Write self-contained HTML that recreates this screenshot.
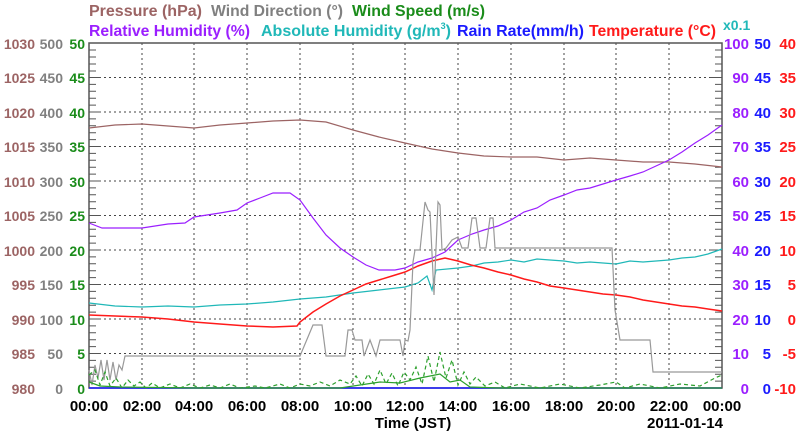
<!DOCTYPE html>
<html><head><style>
body{margin:0;background:#fff;}
svg{display:block;font-family:"Liberation Sans",sans-serif;font-weight:bold;}
</style></head><body>
<svg width="800" height="434" xmlns="http://www.w3.org/2000/svg">
<rect width="800" height="434" fill="#fff"/>
<g font-size="16">
<text x="89" y="16" fill="#9c6464" textLength="113" lengthAdjust="spacingAndGlyphs">Pressure (hPa)</text>
<text x="211" y="16" fill="#808080" textLength="132" lengthAdjust="spacingAndGlyphs">Wind Direction (°)</text>
<text x="352" y="16" fill="#1a8c1a" textLength="133" lengthAdjust="spacingAndGlyphs">Wind Speed (m/s)</text>
<text x="89" y="36" fill="#9b1fff" textLength="161" lengthAdjust="spacingAndGlyphs">Relative Humidity (%)</text>
<text x="261" y="36" fill="#20b8b8">Absolute Humidity (g/m<tspan font-size="9" dy="-7">3</tspan><tspan dy="7">)</tspan></text>
<text x="457" y="36" fill="#1a1aff" textLength="127" lengthAdjust="spacingAndGlyphs">Rain Rate(mm/h)</text>
<text x="589" y="36" fill="#ff1a1a" textLength="127" lengthAdjust="spacingAndGlyphs">Temperature (°C)</text>
<text x="723" y="30" fill="#20b8b8" font-size="14">x0.1</text>
</g>
<g stroke="#444" stroke-width="1" stroke-dasharray="2,3">
<line x1="142" y1="43" x2="142" y2="388"/><line x1="194" y1="43" x2="194" y2="388"/><line x1="247" y1="43" x2="247" y2="388"/><line x1="300" y1="43" x2="300" y2="388"/><line x1="353" y1="43" x2="353" y2="388"/><line x1="405" y1="43" x2="405" y2="388"/><line x1="458" y1="43" x2="458" y2="388"/><line x1="511" y1="43" x2="511" y2="388"/><line x1="564" y1="43" x2="564" y2="388"/><line x1="616" y1="43" x2="616" y2="388"/><line x1="669" y1="43" x2="669" y2="388"/>
<line x1="89" y1="77.5" x2="722" y2="77.5"/><line x1="89" y1="112" x2="722" y2="112"/><line x1="89" y1="146.5" x2="722" y2="146.5"/><line x1="89" y1="181" x2="722" y2="181"/><line x1="89" y1="215.5" x2="722" y2="215.5"/><line x1="89" y1="250" x2="722" y2="250"/><line x1="89" y1="284.5" x2="722" y2="284.5"/><line x1="89" y1="319" x2="722" y2="319"/><line x1="89" y1="353.5" x2="722" y2="353.5"/>
</g>
<rect x="89" y="43" width="633" height="345" fill="none" stroke="#555" stroke-width="1.5"/>
<g stroke="#555" stroke-width="1">
<path d="M89 77.5h12M89 112h12M89 146.5h12M89 181h12M89 215.5h12M89 250h12M89 284.5h12M89 319h12M89 353.5h12M722 77.5h-12M722 112h-12M722 146.5h-12M722 181h-12M722 215.5h-12M722 250h-12M722 284.5h-12M722 319h-12M722 353.5h-12"/>
<path d="M89 50h7M89 57h7M89 64h7M89 71h7M89 84.4h7M89 91.3h7M89 98.2h7M89 105.1h7M89 118.9h7M89 125.8h7M89 132.7h7M89 139.6h7M89 153.4h7M89 160.3h7M89 167.2h7M89 174.1h7M89 187.9h7M89 194.8h7M89 201.7h7M89 208.6h7M89 222.4h7M89 229.3h7M89 236.2h7M89 243.1h7M89 256.9h7M89 263.8h7M89 270.7h7M89 277.6h7M89 291.4h7M89 298.3h7M89 305.2h7M89 312.1h7M89 325.9h7M89 332.8h7M89 339.7h7M89 346.6h7M89 360.4h7M89 367.3h7M89 374.2h7M89 381.1h7"/>
<path d="M722 50h-7M722 57h-7M722 64h-7M722 71h-7M722 84.4h-7M722 91.3h-7M722 98.2h-7M722 105.1h-7M722 118.9h-7M722 125.8h-7M722 132.7h-7M722 139.6h-7M722 153.4h-7M722 160.3h-7M722 167.2h-7M722 174.1h-7M722 187.9h-7M722 194.8h-7M722 201.7h-7M722 208.6h-7M722 222.4h-7M722 229.3h-7M722 236.2h-7M722 243.1h-7M722 256.9h-7M722 263.8h-7M722 270.7h-7M722 277.6h-7M722 291.4h-7M722 298.3h-7M722 305.2h-7M722 312.1h-7M722 325.9h-7M722 332.8h-7M722 339.7h-7M722 346.6h-7M722 360.4h-7M722 367.3h-7M722 374.2h-7M722 381.1h-7"/>
</g>
<g font-size="14" text-anchor="end">
<g fill="#9c6464"><text x="35" y="49">1030</text><text x="35" y="83">1025</text><text x="35" y="118">1020</text><text x="35" y="152">1015</text><text x="35" y="187">1010</text><text x="35" y="221">1005</text><text x="35" y="256">1000</text><text x="35" y="290">995</text><text x="35" y="325">990</text><text x="35" y="359">985</text><text x="35" y="394">980</text></g>
<g fill="#808080"><text x="63" y="49">500</text><text x="63" y="83">450</text><text x="63" y="118">400</text><text x="63" y="152">350</text><text x="63" y="187">300</text><text x="63" y="221">250</text><text x="63" y="256">200</text><text x="63" y="290">150</text><text x="63" y="325">100</text><text x="63" y="359">50</text><text x="63" y="394">0</text></g>
<g fill="#1a8c1a"><text x="85" y="49">50</text><text x="85" y="83">45</text><text x="85" y="118">40</text><text x="85" y="152">35</text><text x="85" y="187">30</text><text x="85" y="221">25</text><text x="85" y="256">20</text><text x="85" y="290">15</text><text x="85" y="325">10</text><text x="85" y="359">5</text><text x="85" y="394">0</text></g>
</g>
<g font-size="15" text-anchor="end">
<g fill="#9b1fff"><text x="749" y="49">100</text><text x="749" y="83">90</text><text x="749" y="118">80</text><text x="749" y="152">70</text><text x="749" y="187">60</text><text x="749" y="221">50</text><text x="749" y="256">40</text><text x="749" y="290">30</text><text x="749" y="325">20</text><text x="749" y="359">10</text><text x="749" y="394">0</text></g>
<g fill="#1a1aff"><text x="771" y="49">50</text><text x="771" y="83">45</text><text x="771" y="118">40</text><text x="771" y="152">35</text><text x="771" y="187">30</text><text x="771" y="221">25</text><text x="771" y="256">20</text><text x="771" y="290">15</text><text x="771" y="325">10</text><text x="771" y="359">5</text><text x="771" y="394">0</text></g>
<g fill="#ff1a1a"><text x="796" y="49">40</text><text x="796" y="83">35</text><text x="796" y="118">30</text><text x="796" y="152">25</text><text x="796" y="187">20</text><text x="796" y="221">15</text><text x="796" y="256">10</text><text x="796" y="290">5</text><text x="796" y="325">0</text><text x="796" y="359">-5</text><text x="796" y="394">-10</text></g>
</g>
<g font-size="15" fill="#000" text-anchor="middle">
<text x="89" y="411">00:00</text><text x="142" y="411">02:00</text><text x="194" y="411">04:00</text><text x="247" y="411">06:00</text><text x="300" y="411">08:00</text><text x="353" y="411">10:00</text><text x="405" y="411">12:00</text><text x="458" y="411">14:00</text><text x="511" y="411">16:00</text><text x="564" y="411">18:00</text><text x="616" y="411">20:00</text><text x="669" y="411">22:00</text><text x="722" y="411">00:00</text>
<text x="413" y="428">Time (JST)</text><text x="685" y="428">2011-01-14</text>
</g>
<g fill="none" stroke-width="1.2">
<polyline stroke="#9c6464" points="89,128 115,125 142,124 168,126 194,128 220,125 247,123 273,121 300,120 326,122 353,130 379,137 405,143 432,149 458,153 484,156 511,157 537,157 564,160 590,158 616,160 643,162 669,162 695,164 722,167"/>
<polyline stroke="#9b1fff" points="89,223 102,228 142,228 168,224 185,223 194,217 220,213 237,210 247,203 260,198 273,193 290,193 300,200 313,218 326,235 340,248 353,257 366,265 379,270 395,270 405,268 418,262 432,258 445,252 458,240 472,234 484,230 498,226 511,220 524,212 537,208 550,200 564,195 577,190 590,188 603,184 616,180 630,176 643,172 656,166 669,160 682,152 695,143 708,135 722,125"/>
<polyline stroke="#20b8b8" points="89,303 115,306 142,307 168,306 194,307 220,305 247,304 273,302 300,299 326,297 353,293 379,290 405,287 418,283 427,276 432,290 436,270 458,268 472,266 484,263 498,262 511,260 524,262 537,259 550,260 564,261 577,263 590,262 603,263 616,264 630,261 643,262 656,261 669,260 682,258 695,257 708,254 722,249"/>
<polyline stroke="#ff1a1a" stroke-width="1.5" points="89,315 115,316 142,317 168,319 194,322 220,324 247,326 273,327 297,326 300,322 313,312 326,304 340,296 353,290 366,284 379,280 392,276 405,272 418,266 432,261 445,258 458,261 471,265 484,268 498,272 511,275 524,279 537,282 550,286 564,288 577,290 590,292 603,294 616,295 630,297 643,300 656,302 669,304 682,306 695,307 708,309 722,311"/>
<polyline stroke="#999" points="89,370 92,385 95,365 98,378 101,360 104,380 107,360 110,380 113,362 116,380 119,365 122,370 125,356 300,356 313,325 322,325 326,356 345,356 348,330 352,330 355,340 362,340 364,356 370,340 376,356 380,340 400,340 403,356 405,340 408,341 410,330 413,262 415,250 420,250 425,202 428,210 430,212 434,295 438,202 440,205 442,250 446,248 452,240 458,237 462,248 468,248 472,218 476,218 480,248 486,248 490,218 493,218 495,248 612,248 615,310 620,340 650,340 653,372 722,372"/>
<polyline stroke="#1a1aff" stroke-width="1.5" points="89,388 722,388"/>
<polyline stroke="#2ca02c" stroke-dasharray="4,3" points="89,375 95,370 100,385 105,372 110,386 116,378 122,388 128,380 134,386 140,382 146,388 152,383 160,388 170,384 180,388 190,384 200,388 210,385 220,388 230,384 240,388 255,386 265,388 280,384 290,388 300,384 310,386 320,382 330,386 340,380 350,384 356,376 362,386 368,374 374,384 380,370 386,384 392,373 398,386 404,372 410,380 416,367 422,384 428,356 434,382 440,352 446,378 452,360 458,385 464,372 470,384 476,377 485,386 495,382 505,388 520,384 540,388 560,384 580,388 600,385 616,382 625,388 640,384 660,388 680,384 700,386 715,378 722,375"/>
<polyline stroke="#2ca02c" points="89,382 100,386 120,387 200,388 340,388 360,385 380,382 400,383 420,378 440,374 450,382 460,380 470,387 500,388 722,388"/>
</g>
</svg>
</body></html>
